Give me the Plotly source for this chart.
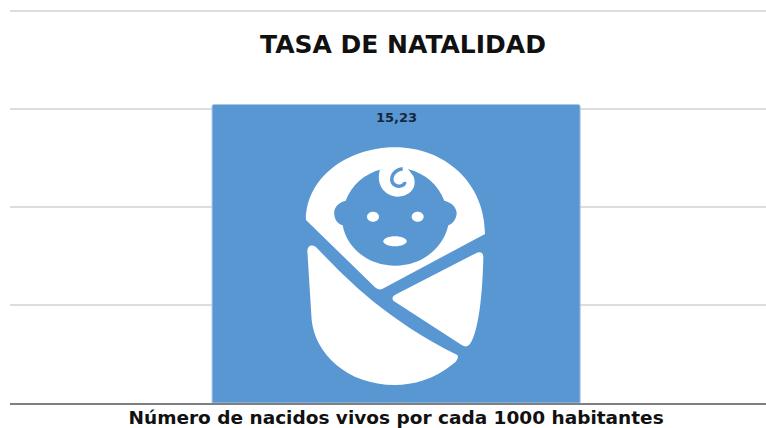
import plotly.graph_objects as go

title = "TASA DE NATALIDAD"
categories = ["Número de nacidos vivos por cada 1000 habitantes"]
values = [15.23]

W, H = 766, 428
L, R, T, B = 10, 766, 9, 403
# top gridline kept 2 px inside the plot so that it is drawn
Y_TOP = 20.1
PX_H = B - T
BLUE = "#5997D3"
FONT = "DejaVu Sans"


def pt(zx, zy):
    x = 200 + zx / 3
    y = 90 + zy / 3
    return f"{(x - L) / (R - L):.5f},{(B - y) / PX_H:.5f}"


def path(cmds):
    out = []
    for c in cmds:
        letter, coords = c[0], c[1:]
        out.append(letter + " " + " ".join(pt(*p) for p in coords))
    return " ".join(out) + " Z"


def shape(cmds, fill="white"):
    return dict(type="path", xref="paper", yref="paper", path=path(cmds),
                fillcolor=fill, line=dict(width=0), layer="above")


def ellipse(cx, cy, rx, ry, fill="white"):
    k = 0.5523
    return shape([
        ("M", (cx - rx, cy)),
        ("C", (cx - rx, cy - k * ry), (cx - k * rx, cy - ry), (cx, cy - ry)),
        ("C", (cx + k * rx, cy - ry), (cx + rx, cy - k * ry), (cx + rx, cy)),
        ("C", (cx + rx, cy + k * ry), (cx + k * rx, cy + ry), (cx, cy + ry)),
        ("C", (cx - k * rx, cy + ry), (cx - rx, cy + k * ry), (cx - rx, cy)),
    ], fill)


hood = shape([
    ("M", (318, 390)),
    ("C", (318, 265), (440, 172), (586, 172)),
    ("C", (735, 172), (855, 280), (855, 432)),
    ("L", (548, 596)),
    ("Q", (535, 602), (525, 592)),
])
face = shape([
    ("M", (545, 238)),
    ("C", (495, 250), (455, 285), (437, 332)),
    ("C", (412, 338), (400, 355), (403, 375)),
    ("C", (405, 392), (415, 402), (428, 406)),
    ("C", (440, 475), (505, 527), (586, 527)),
    ("C", (665, 527), (730, 475), (745, 406)),
    ("C", (760, 400), (770, 385), (770, 368)),
    ("C", (768, 350), (755, 338), (733, 332)),
    ("C", (715, 285), (675, 250), (625, 238)),
], BLUE)
curl = shape([
    ("M", (540, 238)),
    ("C", (525, 290), (560, 320), (592, 320)),
    ("C", (625, 320), (655, 295), (640, 258)),
    ("L", (622, 235)),
])
curl_inner = dict(type="path", xref="paper", yref="paper", layer="above",
                  path="M " + pt(608, 236) + " C " + pt(575, 240) + " " + pt(562, 280) + " " + pt(592, 288)
                       + " C " + pt(605, 290) + " " + pt(615, 284) + " " + pt(614, 276),
                  line=dict(color=BLUE, width=3.5))
mouth = ellipse(585, 454, 35, 15)
wrap_left = shape([
    ("M", (322, 482)),
    ("Q", (325, 460), (347, 470)),
    ("C", (420, 545), (540, 680), (772, 795)),
    ("Q", (778, 805), (762, 820)),
    ("C", (700, 870), (640, 885), (585, 885)),
    ("C", (440, 885), (345, 790), (335, 690)),
])
wrap_right = shape([
    ("M", (580, 632)),
    ("Q", (572, 620), (590, 612)),
    ("L", (825, 491)),
    ("Q", (848, 480), (850, 500)),
    ("C", (848, 600), (838, 720), (810, 762)),
    ("Q", (800, 775), (785, 765)),
])
icon = [hood, face, curl, curl_inner, ellipse(519, 380, 18, 15), ellipse(653, 380, 18, 15),
        mouth, wrap_left, wrap_right]

fig = go.Figure(go.Bar(
    x=categories, y=values, width=1,
    marker=dict(color=BLUE, line=dict(color="#A9C7E6", width=1), cornerradius=2),
    hoverinfo="skip",
))

fig.update_layout(
    width=W, height=H, separators=", ",
    margin=dict(l=L, r=W - R, t=T, b=H - B, pad=0),
    paper_bgcolor="white", plot_bgcolor="white", showlegend=False,
    title=dict(text=f"<b>{title}</b>", x=(403 - L) / (R - L), xref="paper", xanchor="center",
               y=1 - 44 / H, yref="container", yanchor="middle",
               font=dict(family=FONT, size=25, color="#111111")),
    xaxis=dict(type="category", range=[-1.049, 1.005], showgrid=False, ticks="",
               showline=True, linecolor="#7F7F7F", linewidth=2,
               tickfont=dict(family=FONT, size=18.5, color="#111111"),
               ticklabelstandoff=-3,
               ticktext=[f"<b>{categories[0]}</b>"], tickvals=categories),
    yaxis=dict(range=[0, Y_TOP], dtick=5, showticklabels=False, ticks="", zeroline=False,
               showline=False, gridcolor="#DDDDDD", gridwidth=2),
    annotations=[dict(x=categories[0], y=values[0], xref="x", yref="y", yshift=-13,
                      xanchor="center", yanchor="middle", showarrow=False,
                      text="<b>" + f"{values[0]:.2f}".replace(".", ",") + "</b>",
                      font=dict(family=FONT, size=13, color="#14283C"))],
    shapes=icon,
)

fig.write_html("out.html", config=dict(displayModeBar=False),
               post_script="document.body.style.margin='0';")
